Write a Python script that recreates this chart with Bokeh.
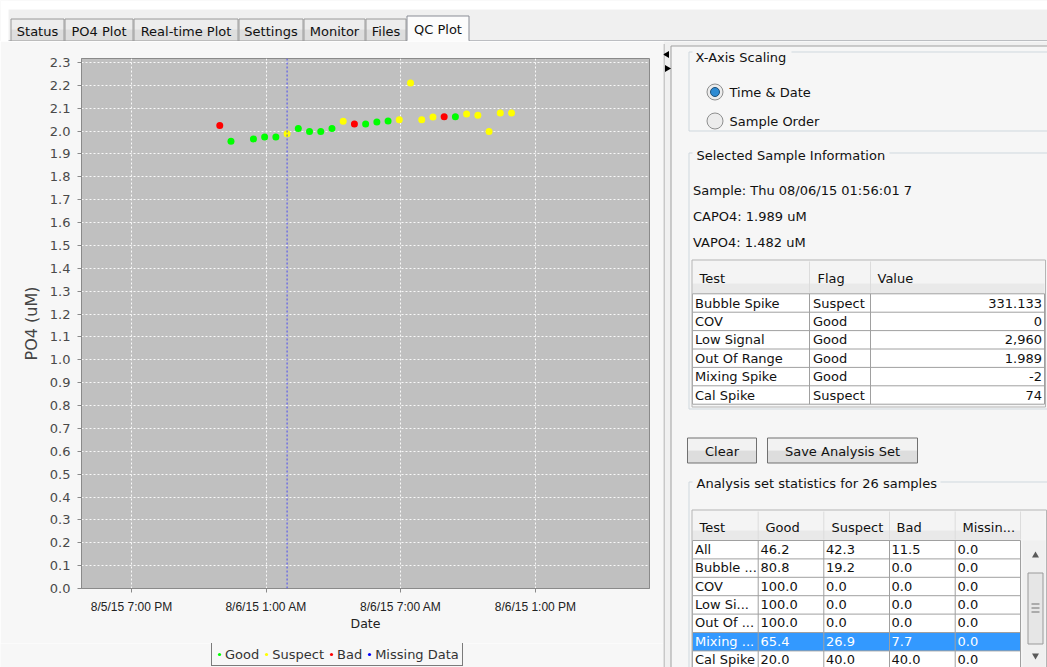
import pandas as pd
from bokeh.plotting import figure
from bokeh.layouts import column, row
from bokeh.models import (Range1d, FixedTicker, Span, Legend, LegendItem,
                          ColumnDataSource, PrintfTickFormatter)
from bokeh.core.properties import value
from bokeh.embed import file_html
from bokeh.resources import INLINE

# ---------------- chart data ----------------
sample_times = [
    "2015-08-05 22:56:01", "2015-08-05 23:26:01", "2015-08-06 00:26:01", "2015-08-06 00:56:01",
    "2015-08-06 01:26:01", "2015-08-06 01:56:01", "2015-08-06 02:26:01", "2015-08-06 02:56:01",
    "2015-08-06 03:26:01", "2015-08-06 03:56:01", "2015-08-06 04:26:01", "2015-08-06 04:56:01",
    "2015-08-06 05:26:01", "2015-08-06 05:56:01", "2015-08-06 06:26:01", "2015-08-06 06:56:01",
    "2015-08-06 07:26:01", "2015-08-06 07:56:01", "2015-08-06 08:26:01", "2015-08-06 08:56:01",
    "2015-08-06 09:26:01", "2015-08-06 09:56:01", "2015-08-06 10:26:01", "2015-08-06 10:56:01",
    "2015-08-06 11:26:01", "2015-08-06 11:56:01",
]
po4_values = [2.024, 1.956, 1.966, 1.974, 1.974, 1.989, 2.011, 1.998, 1.998, 2.011,
              2.043, 2.031, 2.031, 2.040, 2.044, 2.050, 2.210, 2.050, 2.062, 2.063,
              2.063, 2.075, 2.069, 1.998, 2.079, 2.079]
qc_flags = ["Bad", "Good", "Good", "Good", "Good", "Suspect", "Good", "Good", "Good", "Good",
            "Suspect", "Bad", "Good", "Good", "Good", "Suspect", "Suspect", "Suspect", "Suspect", "Bad",
            "Good", "Suspect", "Suspect", "Suspect", "Suspect", "Suspect"]
flag_names = ["Good", "Suspect", "Bad", "Missing Data"]
flag_colors = ["#00ff00", "#ffff00", "#ff0000", "#0000ff"]
selected_sample_time = "2015-08-06 01:56:01"

x_start, x_end = "2015-08-05 16:46:20", "2015-08-06 18:05:00"
y_start, y_end = 0.0, 2.3175
x_tick_times = ["2015-08-05 19:00", "2015-08-06 01:00", "2015-08-06 07:00", "2015-08-06 13:00"]
x_tick_labels = ["8/5/15 7:00 PM", "8/6/15 1:00 AM", "8/6/15 7:00 AM", "8/6/15 1:00 PM"]
y_tick_values = [0.0, 0.1, 0.2, 0.3, 0.4, 0.5, 0.6, 0.7, 0.8, 0.9, 1.0, 1.1,
                 1.2, 1.3, 1.4, 1.5, 1.6, 1.7, 1.8, 1.9, 2.0, 2.1, 2.2, 2.3]
x_axis_title = "Date"
y_axis_title = "PO4 (uM)"

# ---------------- GUI texts / tables ----------------
tab_names = ["Status", "PO4 Plot", "Real-time Plot", "Settings", "Monitor", "Files", "QC Plot"]
selected_tab = "QC Plot"
radio_labels = ["Time & Date", "Sample Order"]
sample_info = ["Sample: Thu 08/06/15 01:56:01 7", "CAPO4: 1.989 uM", "VAPO4: 1.482 uM"]

sample_headers = ["Test", "Flag", "Value"]
sample_tests = ["Bubble Spike", "COV", "Low Signal", "Out Of Range", "Mixing Spike", "Cal Spike"]
sample_flags = ["Suspect", "Good", "Good", "Good", "Good", "Suspect"]
sample_values = ["331.133", "0", "2,960", "1.989", "-2", "74"]

button_labels = ["Clear", "Save Analysis Set"]
stats_title = "Analysis set statistics for 26 samples"
stats_headers = ["Test", "Good", "Suspect", "Bad", "Missin..."]
stats_tests = ["All", "Bubble ...", "COV", "Low Si...", "Out Of ...", "Mixing ...", "Cal Spike"]
stats_good = ["46.2", "80.8", "100.0", "100.0", "100.0", "65.4", "20.0"]
stats_suspect = ["42.3", "19.2", "0.0", "0.0", "0.0", "26.9", "40.0"]
stats_bad = ["11.5", "0.0", "0.0", "0.0", "0.0", "7.7", "40.0"]
stats_missing = ["0.0", "0.0", "0.0", "0.0", "0.0", "0.0", "0.0"]
stats_selected_row = "Mixing ..."

FONT = "DejaVu Sans"
PANEL = "#f7f7f7"
OUTER = "#f0f0f0"


def ms(t):
    return int(pd.Timestamp(t).value // 10**6)


def add_text(fig, xs, ys, texts, align="left", color="#111111", size="13px", font=FONT):
    fig.text(x=xs, y=ys, text=texts, text_align=align, text_baseline="middle",
             text_color=color, text_font=value(font), text_font_size=size)


def blank(width, height, xr, yr, bg):
    f = figure(width=width, height=height, x_range=Range1d(*xr), y_range=Range1d(*yr),
               x_axis_location=None, y_axis_location=None, toolbar_location=None,
               output_backend="svg", min_border=0)
    f.frame_align = False
    f.grid.visible = False
    f.outline_line_color = None
    f.background_fill_color = bg
    f.border_fill_color = bg
    return f


# ================= tab strip (page y 0..41) =================
tabs = blank(1047, 41, (0, 1047), (41, 0), OUTER)
tabs.quad(left=[0], right=[1047], top=[0], bottom=[9], fill_color="white", line_color=None)
tabs.quad(left=[0], right=[8], top=[0], bottom=[41], fill_color="white", line_color=None)
tab_edges = [10, 64, 133, 238, 303, 365, 406, 469]
tabs.segment(x0=[8], y0=[40.5], x1=[1047], y1=[40.5], line_color="#898c95")
un = [i for i, n in enumerate(tab_names) if n != selected_tab]
tabs.quad(left=[tab_edges[i] + 0.5 for i in un], right=[tab_edges[i + 1] - 0.5 for i in un],
          top=[18.5] * len(un), bottom=[29] * len(un), fill_color="#ededed", line_color=None)
tabs.quad(left=[tab_edges[i] + 0.5 for i in un], right=[tab_edges[i + 1] - 0.5 for i in un],
          top=[29] * len(un), bottom=[40.5] * len(un), fill_color="#dedede", line_color=None)
tabs.quad(left=[tab_edges[i] + 0.5 for i in un], right=[tab_edges[i + 1] - 0.5 for i in un],
          top=[18.5] * len(un), bottom=[40.5] * len(un), fill_color=None, line_color="#9a9a9a")
si = tab_names.index(selected_tab)
tabs.quad(left=[tab_edges[si] + 0.5], right=[tab_edges[si + 1] - 0.5], top=[15.5], bottom=[41.5],
          fill_color="#fcfcfc", line_color="#898c95")
tabs.quad(left=[tab_edges[si] + 1], right=[tab_edges[si + 1] - 1], top=[40], bottom=[42],
          fill_color="#fcfcfc", line_color=None)
add_text(tabs, [(tab_edges[i] + tab_edges[i + 1]) / 2 for i in un], [30.5] * len(un),
         [tab_names[i] for i in un], align="center")
add_text(tabs, [(tab_edges[si] + tab_edges[si + 1]) / 2], [28.5], [selected_tab], align="center")

# ================= chart (page x 0..663, y 41..643) =================
p = figure(width=663, height=602, x_axis_type="datetime",
           x_range=Range1d(ms(x_start), ms(x_end)), y_range=Range1d(y_start, y_end),
           output_backend="svg", toolbar_location=None,
           min_border_left=81, min_border_right=14, min_border_top=17, min_border_bottom=55)
p.frame_align = False
p.background_fill_color = "#c0c0c0"
p.border_fill_color = PANEL
p.outline_line_color = "#8a8a8a"

p.xaxis.ticker = FixedTicker(ticks=[ms(t) for t in x_tick_times])
p.xaxis.major_label_overrides = {ms(t): lab for t, lab in zip(x_tick_times, x_tick_labels)}
p.yaxis.ticker = FixedTicker(ticks=y_tick_values)
p.yaxis.formatter = PrintfTickFormatter(format="%.1f")

for ax in (p.xaxis[0], p.yaxis[0]):
    ax.axis_line_color = "#8a8a8a"
    ax.major_tick_line_color = "#8a8a8a"
    ax.major_tick_in = 0
    ax.major_tick_out = 4
    ax.minor_tick_line_color = None
    ax.axis_label_text_font_style = "normal"
    ax.axis_label_text_font = FONT

p.yaxis.major_label_text_font = FONT
p.yaxis.major_label_text_font_size = "13px"
p.yaxis.major_label_text_color = "#4a4a4a"
p.yaxis.major_label_standoff = 7
p.yaxis.axis_label = y_axis_title
p.yaxis.axis_label_text_font_size = "16px"
p.yaxis.axis_label_text_color = "#444444"
p.yaxis.axis_label_standoff = 6

p.xaxis.major_label_text_font = "Liberation Sans"
p.xaxis.major_label_text_font_size = "12px"
p.xaxis.major_label_text_color = "#222222"
p.xaxis.major_label_standoff = 7
p.xaxis.axis_label = x_axis_title
p.xaxis.axis_label_text_font_size = "12.5px"
p.xaxis.axis_label_text_color = "#222222"
p.xaxis.axis_label_standoff = -1

for g in (p.xgrid[0], p.ygrid[0]):
    g.grid_line_color = "white"
    g.grid_line_dash = "2 2"
    g.grid_line_alpha = 0.9

p.add_layout(Span(location=ms(selected_sample_time), dimension="height",
                  line_color="#4b4bf0", line_dash="2 2", line_width=1))

sample_dt = pd.to_datetime(sample_times)
for name, color in zip(flag_names, flag_colors):
    idx = [i for i, f in enumerate(qc_flags) if f == name]
    src = ColumnDataSource(dict(t=[sample_dt[i] for i in idx], v=[po4_values[i] for i in idx]))
    p.scatter("t", "v", source=src, size=7, fill_color=color, line_color=None)

# ================= legend strip below the chart (page y 643..667) =================
leg_fig = blank(663, 24, (0, 663), (0, 24), PANEL)
# key glyphs only: one NaN row each so the legend can draw its swatch, nothing is plotted
key_renderers = [leg_fig.scatter(x=[float("nan")], y=[float("nan")], size=7, fill_color=c, line_color=None)
                 for c in flag_colors]
legend = Legend(items=[LegendItem(label=value(n), renderers=[r]) for n, r in zip(flag_names, key_renderers)],
                orientation="horizontal", location=(211, 1))
legend.glyph_width = 8
legend.glyph_height = 8
legend.label_standoff = 2
legend.spacing = 3
legend.padding = 3
legend.margin = 0
legend.label_height = 16
legend.label_width = 0
legend.label_text_font = FONT
legend.label_text_font_size = "13px"
legend.label_text_color = "#333333"
legend.border_line_color = "black"
legend.border_line_width = 1
legend.background_fill_color = PANEL
legend.background_fill_alpha = 1.0
leg_fig.add_layout(legend, "center")

# ================= right panel (page x 663..1047, y 41..667) =================
side = blank(384, 626, (663, 1047), (667, 41), OUTER)
side.segment(x0=[663.5], y0=[43.5], x1=[663.5], y1=[670], line_color="#a0a0a0")
side.quad(left=[670.5], right=[1060], top=[45.5], bottom=[680], fill_color="#f6f6f6", line_color="#a0a0a0")
side.scatter(x=[666.5], y=[54], marker="triangle", angle=1.5708, size=7, fill_color="black", line_color=None)
side.scatter(x=[666.5], y=[68], marker="triangle", angle=-1.5708, size=7, fill_color="black", line_color=None)

GB = "#cfd8de"
side.quad(left=[688.5, 688.5, 688.5], right=[1060, 1060, 1060], top=[51.5, 152.5, 481.5],
          bottom=[130.5, 408.5, 700], fill_color=None, line_color=GB)
side.quad(left=[692, 692, 692], right=[791, 889, 940], top=[48, 146, 475], bottom=[61, 161, 490],
          fill_color="#f6f6f6", line_color=None)
add_text(side, [695, 696, 696], [56.5, 154.5, 482.5],
         ["X-Axis Scaling", "Selected Sample Information", stats_title])

side.scatter(x=[714.5, 714.5], y=[91.5, 120.5], size=16, fill_color="#ececec", line_color="#8e8f8f")
side.scatter(x=[714.5], y=[91.5], size=9, fill_color="#2d8bd3", line_color="#1d4f78")
add_text(side, [729, 729], [91.5, 120.5], radio_labels)

add_text(side, [692.5] * 3, [189.5, 216, 242], sample_info)

# ---- sample table ----
RH = 18.4
t1_cols = [692, 809, 870, 1044]
t1_top = 293.3
side.quad(left=[692], right=[1044], top=[260], bottom=[293], fill_color="#f4f4f4", line_color=None)
side.quad(left=[692], right=[1044], top=[283], bottom=[293], fill_color="#e9e9e9", line_color=None)
side.quad(left=[692], right=[1044], top=[t1_top], bottom=[t1_top + 6 * RH], fill_color="white", line_color=None)
side.segment(x0=[692] * 7, x1=[1044] * 7, y0=[t1_top + RH * i for i in range(7)],
             y1=[t1_top + RH * i for i in range(7)], line_color="#a0a0a0")
side.segment(x0=t1_cols, x1=t1_cols, y0=[t1_top] * 4, y1=[t1_top + 6 * RH] * 4, line_color="#a0a0a0")
side.segment(x0=t1_cols[1:3], x1=t1_cols[1:3], y0=[261] * 2, y1=[292] * 2, line_color="#dcdcdc")
side.quad(left=[691.5], right=[1045], top=[259.5], bottom=[406.5], fill_color=None, line_color="#b5b5b5")
add_text(side, [699, 817, 877], [278] * 3, sample_headers)
t1_cy = [t1_top + RH * i + RH / 2 for i in range(6)]
add_text(side, [694.5] * 6, t1_cy, sample_tests)
add_text(side, [812.5] * 6, t1_cy, sample_flags)
add_text(side, [1041.5] * 6, t1_cy, sample_values, align="right")

# ---- buttons ----
bl, br = [687, 767], [756, 917]
side.quad(left=bl, right=br, top=[437.5] * 2, bottom=[450] * 2, fill_color="#f2f2f2", line_color=None)
side.quad(left=bl, right=br, top=[450] * 2, bottom=[462.5] * 2, fill_color="#dddddd", line_color=None)
side.quad(left=bl, right=br, top=[437.5] * 2, bottom=[462.5] * 2, fill_color=None, line_color="#707070")
add_text(side, [(a + b) / 2 for a, b in zip(bl, br)], [450.5] * 2, button_labels, align="center")

# ---- statistics table ----
t2_cols = [692, 757.7, 823.3, 889, 954.7, 1020]
t2_top = 540
n2 = len(stats_tests)
side.quad(left=[692], right=[1044], top=[510], bottom=[540], fill_color="#f4f4f4", line_color=None)
side.quad(left=[692], right=[1020], top=[530], bottom=[540], fill_color="#e9e9e9", line_color=None)
side.quad(left=[692], right=[1020], top=[t2_top], bottom=[680], fill_color="white", line_color=None)
sel = stats_tests.index(stats_selected_row)
side.quad(left=[692], right=[1020], top=[t2_top + RH * sel], bottom=[t2_top + RH * (sel + 1)],
          fill_color="#3399ff", line_color=None)
side.segment(x0=[692] * (n2 + 1), x1=[1020] * (n2 + 1), y0=[t2_top + RH * i for i in range(n2 + 1)],
             y1=[t2_top + RH * i for i in range(n2 + 1)], line_color="#a0a0a0")
side.segment(x0=t2_cols, x1=t2_cols, y0=[t2_top] * 6, y1=[680] * 6, line_color="#a0a0a0")
side.segment(x0=t2_cols[1:], x1=t2_cols[1:], y0=[511] * 5, y1=[539] * 5, line_color="#dcdcdc")
side.quad(left=[691.5], right=[1046], top=[509.5], bottom=[700], fill_color=None, line_color="#b5b5b5")
add_text(side, [699, 765, 831, 896, 962], [527] * 5, stats_headers)
t2_cy = [t2_top + RH * i + RH / 2 - 0.5 for i in range(n2)]
colors = ["white" if t == stats_selected_row else "#111111" for t in stats_tests]
for cx, col in zip([694.5, 760, 825.5, 891, 957], [stats_tests, stats_good, stats_suspect, stats_bad, stats_missing]):
    side.text(x=[cx] * n2, y=t2_cy, text=col, text_align="left", text_baseline="middle",
              text_color=colors, text_font=value(FONT), text_font_size="13px")

side.quad(left=[1022], right=[1045], top=[540], bottom=[680], fill_color="#f0f0f0", line_color=None)
side.quad(left=[1027.5], right=[1042.5], top=[572.5], bottom=[643.5], fill_color="#e6e6e6", line_color="#9a9a9a")
side.segment(x0=[1031] * 3, x1=[1039] * 3, y0=[603.5, 607.5, 611.5], y1=[603.5, 607.5, 611.5], line_color="#707070")
side.scatter(x=[1035, 1035], y=[555, 655], marker="triangle", angle=[0, 3.14159], size=7,
             fill_color="#5a5a5a", line_color=None)

layout = column(tabs, row(column(p, leg_fig), side))
open("out.html", "w").write(file_html(layout, INLINE))
